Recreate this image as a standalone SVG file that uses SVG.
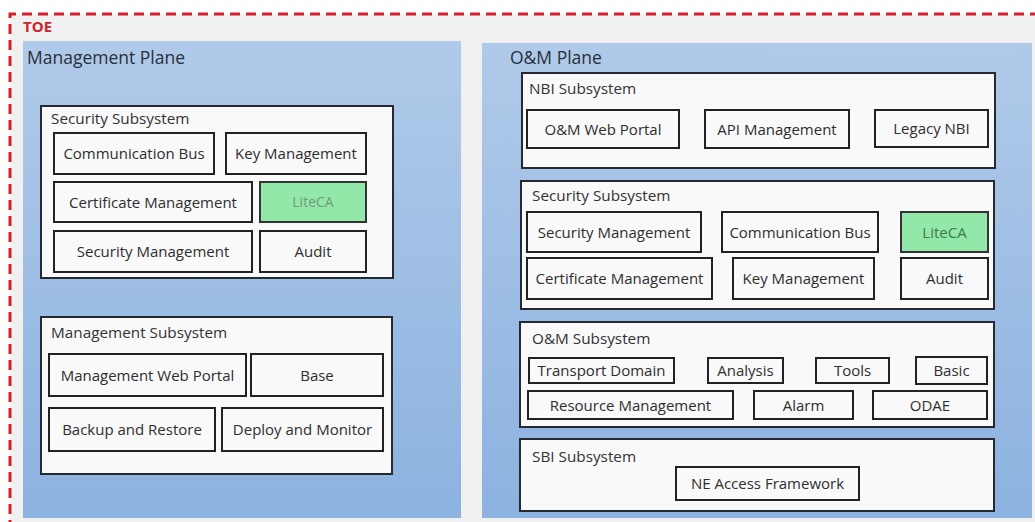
<svg xmlns="http://www.w3.org/2000/svg" width="1035" height="522" viewBox="0 0 1035 522">
<defs>
<linearGradient id="plane" x1="0" y1="0" x2="0" y2="1">
<stop offset="0" stop-color="#b0cae9"/>
<stop offset="1" stop-color="#8cb2e0"/>
</linearGradient>
</defs>
<style>
.bg{fill:#f0f0f0}
.toe{fill:none;stroke:#cf2229;stroke-width:3;stroke-dasharray:10 6}
.plane{fill:url(#plane)}
.ptitle{font-family:"Open Sans","Noto Sans",sans-serif;font-size:17.5px;fill:#28303c}
.sub{fill:#f9f9f9;stroke:#262a30;stroke-width:2}
.stitle{font-family:"Open Sans","Noto Sans",sans-serif;font-size:15.3px;fill:#333}
.box{fill:#f9f9f9;stroke:#222;stroke-width:2}
.green{fill:#92e8a8;stroke:#333;stroke-width:2}
.lbl{font-family:"Open Sans","Noto Sans",sans-serif;font-size:15px;fill:#2e2e2e;text-anchor:middle}
</style>
<rect x="0" y="0" width="1035" height="522" fill="#ffffff"/>
<rect class="bg" x="10" y="14" width="1040" height="520"/>
<path class="toe" d="M10 530 V14 H1040"/>
<text x="23" y="32" font-family="'Open Sans','Noto Sans',sans-serif" font-size="15" font-weight="bold" fill="#c8262c">TOE</text>

<g id="management-plane">
<rect class="plane" x="23" y="41" width="438" height="477"/>
<text class="ptitle" x="27" y="64">Management Plane</text>
</g>
<g id="security-subsystem-left">
<rect class="sub" x="41" y="106" width="352" height="172"/>
<text class="stitle" x="51" y="124">Security Subsystem</text>
</g>
<g id="l-communication-bus"><rect class="box" x="54" y="133" width="160" height="41"/><text class="lbl" x="134" y="159">Communication Bus</text></g>
<g id="l-key-management"><rect class="box" x="226" y="133" width="140" height="41"/><text class="lbl" x="296" y="159">Key Management</text></g>
<g id="l-certificate-management"><rect class="box" x="54" y="182" width="198" height="40"/><text class="lbl" x="153" y="207.5">Certificate Management</text></g>
<g id="l-liteca"><rect class="green" x="260" y="182" width="106" height="40"/><text class="lbl" x="313" y="207" style="fill:#6f9a7a;font-size:14px">LiteCA</text></g>
<g id="l-security-management"><rect class="box" x="54" y="231" width="198" height="41"/><text class="lbl" x="153" y="257">Security Management</text></g>
<g id="l-audit"><rect class="box" x="260" y="231" width="106" height="41"/><text class="lbl" x="313" y="257">Audit</text></g>

<g id="management-subsystem">
<rect class="sub" x="41" y="317" width="351" height="157"/>
<text class="stitle" x="51" y="338">Management Subsystem</text>
</g>
<g id="management-web-portal"><rect class="box" x="49" y="354" width="197" height="42"/><text class="lbl" x="147.5" y="380.5">Management Web Portal</text></g>
<g id="base"><rect class="box" x="251" y="354" width="132" height="42"/><text class="lbl" x="317" y="380.5">Base</text></g>
<g id="backup-and-restore"><rect class="box" x="49" y="408" width="166" height="43"/><text class="lbl" x="132" y="435">Backup and Restore</text></g>
<g id="deploy-and-monitor"><rect class="box" x="222" y="408" width="161" height="43"/><text class="lbl" x="302.5" y="435">Deploy and Monitor</text></g>

<g id="om-plane">
<rect class="plane" x="482" y="43" width="550" height="475"/>
<text class="ptitle" x="510" y="64">O&amp;M Plane</text>
</g>
<g id="nbi-subsystem">
<rect class="sub" x="522" y="73" width="473" height="95"/>
<text class="stitle" x="529" y="94">NBI Subsystem</text>
</g>
<g id="om-web-portal"><rect class="box" x="527" y="110" width="152" height="38"/><text class="lbl" x="603" y="134.5">O&amp;M Web Portal</text></g>
<g id="api-management"><rect class="box" x="705" y="110" width="144" height="38"/><text class="lbl" x="777" y="134.5">API Management</text></g>
<g id="legacy-nbi"><rect class="box" x="875" y="110" width="113" height="37"/><text class="lbl" x="931.5" y="134">Legacy NBI</text></g>

<g id="security-subsystem-right">
<rect class="sub" x="521" y="181" width="473" height="128"/>
<text class="stitle" x="532" y="201">Security Subsystem</text>
</g>
<g id="r-security-management"><rect class="box" x="527" y="212" width="174" height="40"/><text class="lbl" x="614" y="237.5">Security Management</text></g>
<g id="r-communication-bus"><rect class="box" x="722" y="212" width="156" height="40"/><text class="lbl" x="800" y="237.5">Communication Bus</text></g>
<g id="r-liteca"><rect class="green" x="901" y="212" width="87" height="40"/><text class="lbl" x="944.5" y="237.5" style="fill:#3c7a4c">LiteCA</text></g>
<g id="r-certificate-management"><rect class="box" x="527" y="258" width="185" height="41"/><text class="lbl" x="619.5" y="284">Certificate Management</text></g>
<g id="r-key-management"><rect class="box" x="733" y="258" width="141" height="41"/><text class="lbl" x="803.5" y="284">Key Management</text></g>
<g id="r-audit"><rect class="box" x="901" y="258" width="87" height="41"/><text class="lbl" x="944.5" y="284">Audit</text></g>

<g id="om-subsystem">
<rect class="sub" x="520" y="322" width="474" height="105"/>
<text class="stitle" x="532" y="344">O&amp;M Subsystem</text>
</g>
<g id="transport-domain"><rect class="box" x="529" y="358" width="145" height="25"/><text class="lbl" x="601.5" y="376">Transport Domain</text></g>
<g id="analysis"><rect class="box" x="708" y="358" width="75" height="25"/><text class="lbl" x="745.5" y="376">Analysis</text></g>
<g id="tools"><rect class="box" x="816" y="358" width="73" height="25"/><text class="lbl" x="852.5" y="376">Tools</text></g>
<g id="basic"><rect class="box" x="916" y="357" width="71" height="27"/><text class="lbl" x="951.5" y="376">Basic</text></g>
<g id="resource-management"><rect class="box" x="528" y="391" width="205" height="28"/><text class="lbl" x="630.5" y="410.5">Resource Management</text></g>
<g id="alarm"><rect class="box" x="754" y="391" width="99" height="28"/><text class="lbl" x="803.5" y="410.5">Alarm</text></g>
<g id="odae"><rect class="box" x="873" y="391" width="114" height="28"/><text class="lbl" x="930" y="410.5">ODAE</text></g>

<g id="sbi-subsystem">
<rect class="sub" x="520" y="439" width="474" height="72"/>
<text class="stitle" x="532" y="462">SBI Subsystem</text>
</g>
<g id="ne-access-framework"><rect class="box" x="676" y="467" width="183" height="33"/><text class="lbl" x="767.5" y="489">NE Access Framework</text></g>

<g id="connectors"/>
</svg>
